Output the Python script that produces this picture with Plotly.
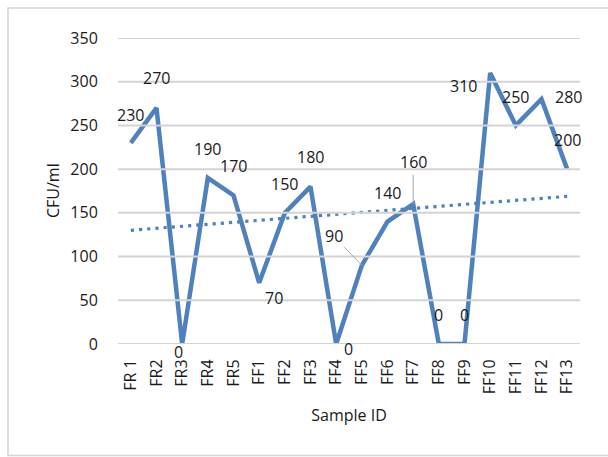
import numpy as np
import plotly.graph_objects as go

# ---- data ----
categories = ["FR 1", "FR2", "FR3", "FR4", "FR5", "FF1", "FF2", "FF3", "FF4",
              "FF5", "FF6", "FF7", "FF8", "FF9", "FF10", "FF11", "FF12", "FF13"]
cfu_values = [230, 270, 0, 190, 170, 70, 150, 180, 0,
              90, 140, 160, 0, 0, 310, 250, 280, 200]
y_ticks = [0, 50, 100, 150, 200, 250, 300, 350]

# ---- style: label offsets (px) for each data label ----
label_shift = {
    "FR 1": (0, 28), "FR2": (0, 30), "FR3": (-4, -8), "FR4": (0, 29),
    "FR5": (0, 29), "FF1": (15, -15), "FF2": (0, 29), "FF3": (0, 30),
    "FF4": (12, -5), "FF6": (0, 29), "FF8": (0, 29), "FF9": (0, 29),
    "FF10": (-27, -13), "FF11": (0, 28), "FF12": (27, 2), "FF13": (0, 29),
}
leader_offset = {"FF5": (-28, -29), "FF7": (0, -42)}  # ax, ay (ay down+)

BLUE = "#4f81bd"
FONT = "Open Sans"
TXT = "#1a1a1a"
GRID = "#d4d4d4"

# linear trendline computed from the data
xi = np.arange(1, len(cfu_values) + 1)
slope, intercept = np.polyfit(xi, cfu_values, 1)
trend = slope * xi + intercept

# gridline trace (on a hidden overlay x axis spanning the plot width)
grid_x, grid_y = [], []
for t in y_ticks:
    grid_x += [0, 1, None]
    grid_y += [t, t, None]

fig = go.Figure()
fig.add_trace(go.Scatter(
    x=grid_x, y=grid_y, xaxis="x2", yaxis="y", mode="lines",
    line=dict(color=GRID, width=2), hoverinfo="skip", showlegend=False,
    cliponaxis=False))
fig.add_trace(go.Scatter(
    x=categories, y=trend, mode="lines",
    line=dict(color=BLUE, width=3.2, dash="3.2px,5px"),
    hoverinfo="skip", showlegend=False))
fig.add_trace(go.Scatter(
    x=categories, y=cfu_values, mode="lines",
    line=dict(color=BLUE, width=4.5),
    showlegend=False))

annotations = []
for c, v in zip(categories, cfu_values):
    if c in leader_offset:
        ax, ay = leader_offset[c]
        annotations.append(dict(
            x=c, y=v, xref="x", yref="y", text=str(v),
            showarrow=True, arrowhead=0, arrowwidth=1, arrowcolor="#a6a6a6",
            ax=ax, ay=ay, standoff=0,
            font=dict(family=FONT, size=16, color=TXT)))
    else:
        dx, dy = label_shift.get(c, (0, 28))
        annotations.append(dict(
            x=c, y=v, xref="x", yref="y", text=str(v), showarrow=False,
            xshift=dx, yshift=dy,
            font=dict(family=FONT, size=16, color=TXT)))

# plot area: x 118..580 px, y 38..344 px
W, H = 608, 457
L, R, T, B = 118, 28, 38, 113
pw, ph = W - L - R, H - T - B


def px_to_paper_x(px):
    return (px - L) / pw


def px_to_paper_y(py):
    return (H - B - py) / ph


# y axis title as an annotation for exact placement
annotations.append(dict(
    x=px_to_paper_x(53), y=0.5, xref="paper", yref="paper",
    text="CFU/ml", textangle=-90, showarrow=False,
    xanchor="center", yanchor="middle",
    font=dict(family=FONT, size=16, color=TXT)))

shapes = [dict(type="rect", xref="paper", yref="paper",
               x0=px_to_paper_x(8), x1=px_to_paper_x(640),
               y0=px_to_paper_y(455.5), y1=px_to_paper_y(8),
               line=dict(color=GRID, width=1.5),
               fillcolor="rgba(0,0,0,0)", layer="below")]

fig.update_layout(
    width=W, height=H,
    margin=dict(l=L, r=R, t=T, b=B),
    paper_bgcolor="white", plot_bgcolor="white",
    font=dict(family=FONT, size=16, color=TXT),
    annotations=annotations,
    shapes=shapes,
    xaxis=dict(
        type="category", categoryorder="array", categoryarray=categories,
        range=[-0.5, len(categories) - 0.5],
        tickangle=-90, showgrid=False, zeroline=False, showline=False,
        ticks="outside", ticklen=8, tickcolor="rgba(0,0,0,0)",
        tickfont=dict(family=FONT, size=16, color=TXT),
        title=dict(text="Sample ID", standoff=16,
                   font=dict(family=FONT, size=16, color=TXT))),
    xaxis2=dict(overlaying="x", range=[0, 1], visible=False,
                showgrid=False, zeroline=False),
    yaxis=dict(
        range=[0, 350], tickmode="array", tickvals=y_ticks,
        showgrid=False, zeroline=False, showline=False,
        ticks="outside", ticklen=16, tickcolor="rgba(0,0,0,0)",
        tickfont=dict(family=FONT, size=16, color=TXT)),
)

fig.write_html("out.html")
